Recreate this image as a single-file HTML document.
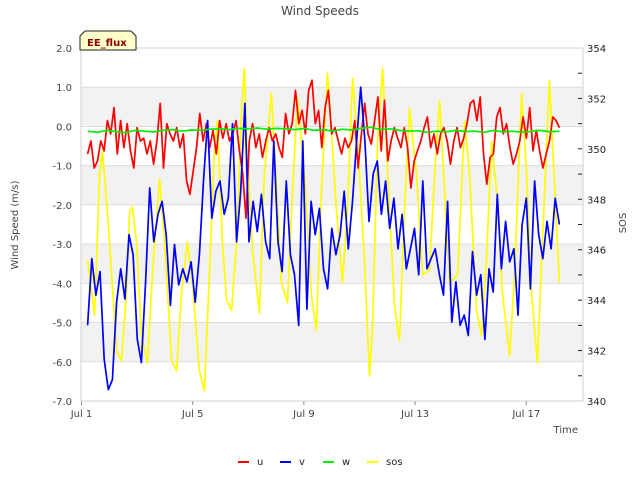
<!DOCTYPE html>
<html><head><meta charset="utf-8"><style>
body{margin:0;background:#fff;}
svg{display:block;font-family:"DejaVu Sans","Liberation Sans",sans-serif;}
</style></head><body>
<svg id="chart" width="640" height="480" xmlns="http://www.w3.org/2000/svg">
<text x="320" y="15" text-anchor="middle" font-size="12" fill="#444">Wind Speeds</text>
<g id="bands"></g><g id="grid"></g><g id="series"></g><g id="axes"></g>
<g>
<path d="M80,50 L80,36 L85,31 L131,31 L136,36 L136,50 Z" fill="#ffffcc" stroke="#222" stroke-width="1"/>
<text x="87" y="46" font-size="10" font-weight="bold" fill="#8b0000">EE_flux</text>
</g>
<text x="18" y="225" font-size="10" fill="#444" text-anchor="middle" transform="rotate(-90 18 225)">Wind Speed (m/s)</text>
<text x="626" y="223" font-size="10" fill="#444" text-anchor="middle" transform="rotate(-90 626 223)">SOS</text>
<text x="578" y="433" font-size="10" fill="#444" text-anchor="end">Time</text>
<g id="legend"></g>
</svg>
<script>
const xTickLabels=["Jul 1","Jul 5","Jul 9","Jul 13","Jul 17"];
const xTickDays=[0,4,8,12,16];
const yTicks=[2,1,0,-1,-2,-3,-4,-5,-6,-7];
const y2Ticks=[354,352,350,348,346,344,342,340];
const seriesNames=["u","v","w","sos"];
const seriesColors=["#ff0000","#0000ff","#00ee00","#ffff00"];
const tStart=0.22, tEnd=17.19;
const uVals=[-0.7,-0.37,-1.06,-0.88,-0.37,-0.62,0.15,-0.19,0.48,-0.7,0.15,-0.54,0.07,-0.62,-1.06,-0.03,-0.37,-0.3,-0.7,-0.37,-0.96,-0.37,0.59,-1.06,0.07,-0.19,-0.37,-0.03,-0.54,-0.19,-1.39,-1.73,-1.14,-0.54,0.33,-0.37,0.07,-0.54,-0.1,-0.7,0.15,-0.3,0.07,-0.37,-0.19,0.15,-0.62,-1.21,-2.34,-0.37,0.07,-0.54,-0.19,-0.79,-0.37,-0.03,-0.37,-0.19,-0.54,-0.79,0.33,-0.19,0.07,0.92,0.07,0.41,-0.19,0.92,1.18,0.07,0.41,-0.54,0.48,0.92,-0.19,
-0.03,-0.37,-0.7,-0.3,-0.54,-0.37,0.15,-1.06,-0.19,0.59,-0.19,-0.45,0.15,0.75,-0.62,0.67,-0.88,-0.37,-0.03,-0.3,-0.54,-0.03,-0.54,-1.57,-0.88,-0.62,-0.37,-0.03,0.24,-0.54,-0.19,-0.7,-0.19,-0.03,-0.37,-0.96,-0.37,-0.03,-0.54,-0.3,0.07,0.59,0.67,0.15,0.75,-0.7,-1.47,-0.79,-0.7,0.24,0.48,-0.19,0.07,-0.54,-0.96,-0.7,-0.37,0.24,-0.3,0.48,-0.62,-0.1,-0.62,-1.06,-0.7,-0.37,0.24,0.15,-0.03];
const vVals=[-5.07,-3.37,-4.3,-3.7,-5.94,-6.71,-6.46,-4.48,-3.63,-4.4,-2.76,-3.27,-5.43,-6.02,-3.96,-1.57,-2.94,-2.24,-1.91,-2.76,-4.56,-3.01,-4.04,-3.63,-3.96,-3.45,-4.48,-3.27,-1.39,0.15,-2.34,-1.65,-1.39,-2.24,-1.83,0.07,-2.94,-1.65,0.59,-2.94,-1.91,-2.68,-1.73,-2.94,-3.37,-0.37,-2.94,-3.7,-1.39,-3.27,-3.78,-5.07,-0.37,-4.66,-1.91,-2.76,-2.09,-3.63,
-4.14,-2.6,-3.27,-2.76,-1.65,-3.12,-1.91,-0.37,1.0,-0.37,-2.42,-1.21,-0.88,-2.24,-1.39,-2.6,-1.83,-3.12,-2.24,-3.63,-3.12,-2.6,-3.78,-1.39,-3.63,-3.37,-3.12,-3.78,-4.3,-1.91,-4.99,-3.96,-5.07,-4.81,-5.33,-3.19,-4.3,-3.78,-5.43,-3.63,-4.22,-1.73,-3.63,-2.42,-3.45,-3.12,-4.81,-2.5,-1.83,-4.14,-1.39,-2.76,-3.37,-2.42,-3.12,-1.83,-2.5];
const wVals=[-0.12,-0.15,-0.1,-0.13,-0.16,-0.1,-0.12,-0.14,-0.1,-0.08,-0.12,-0.09,-0.1,-0.07,-0.06,-0.08,-0.05,-0.06,-0.04,-0.07,-0.05,-0.06,-0.08,-0.05,-0.1,-0.08,-0.12,-0.07,-0.09,-0.05,-0.02,-0.08,-0.06,-0.1,-0.12,-0.11,-0.15,-0.12,-0.14,-0.1,-0.13,-0.12,-0.15,-0.1,-0.14,-0.12,-0.15,-0.13,-0.1,-0.14,-0.12];
const sosDays=[0.22,0.47,0.65,0.76,1.01,1.26,1.44,1.62,1.73,1.83,1.98,2.16,2.37,2.55,2.81,2.99,3.24,3.42,3.60,3.81,3.99,4.24,4.42,4.60,4.78,4.89,5.07,5.22,5.40,5.58,5.76,5.86,5.97,6.15,6.40,6.58,6.83,7.01,7.19,7.41,7.59,7.77,8.02,8.27,8.45,8.63,8.85,8.92,9.17,9.39,9.57,9.75,9.93,10.18,10.36,10.47,10.65,10.83,11.08,11.26,11.44,11.62,11.80,12.05,12.27,12.52,12.70,12.88,13.06,13.24,13.53,13.78,13.96,14.21,14.39,14.57,14.75,14.93,15.14,15.40,15.58,15.83,16.01,16.19,16.40,16.58,16.83,16.94,17.19];
const sosVals=[345.6,343.4,349,349.9,346.3,342,341.6,344.3,347.5,347.7,346.3,342.6,341.5,345,348.8,346.3,341.6,341.2,344.3,346.3,344.7,341.2,340.4,345,349.9,351.1,346.3,344,343.6,346.3,351.6,353.2,349.6,346,343.5,349,352.2,348.6,344.7,343.9,348.3,352,349,344.2,342.8,348.3,353,351.9,347.6,344.7,347.6,352.8,350.3,345.6,341,343,350.3,353.2,347.6,343.8,342.4,347.6,351.6,349,345,345.2,349,351.9,348.3,344.7,345,351.1,349,343.6,342.6,345.6,350.3,348.3,344.3,341.8,345,352.2,349,344.3,341.5,346.3,352.7,350.3,344.7];

const NS="http://www.w3.org/2000/svg";
const L=81,R=583,T=48,B=401,x0=81.5,pxDay=27.8;
const xs=d=>x0+d*pxDay;
const ys=v=>T+(2-v)*(B-T)/9;
const ys2=v=>T+(354-v)*(B-T)/14;
function mk(tag,attrs,parent){const e=document.createElementNS(NS,tag);for(const k in attrs)e.setAttribute(k,attrs[k]);parent.appendChild(e);return e;}
const bands=document.getElementById('bands'),grid=document.getElementById('grid'),series=document.getElementById('series'),axes=document.getElementById('axes'),legend=document.getElementById('legend');
for(let v=1;v>-7;v-=2){const r=mk('rect',{x:L,y:ys(v),width:R-L,height:ys(v-1)-ys(v),fill:'#f2f2f2'},bands);

}
yTicks.forEach(v=>{const y=ys(v);mk('line',{x1:L,x2:R,y1:y,y2:y,stroke:'#dddddd','stroke-width':1},grid);
const t=mk('text',{x:72,y:y+4,'text-anchor':'end','font-size':10,fill:'#444'},axes);t.textContent=v.toFixed(1);

});
y2Ticks.forEach(v=>{const y=ys2(v);const t=mk('text',{x:587,y:y+4,'font-size':10,fill:'#222'},axes);t.textContent=v;

});
for(let v=353;v>340;v-=1){const y=ys2(v);mk('line',{x1:R-1,x2:R-5,y1:y,y2:y,stroke:'#222'},axes);}
xTickDays.forEach((d,i)=>{const x=xs(d);mk('line',{x1:x,x2:x,y1:B,y2:B+4,stroke:'#888'},axes);
const t=mk('text',{x:x,y:B+16,'text-anchor':'middle','font-size':10,fill:'#444'},axes);t.textContent=xTickLabels[i];

});
const frame=mk('rect',{x:L,y:T,width:R-L,height:B-T,fill:'none',stroke:'#d0d0d0'},axes);


function evenLine(vals,scale,color,name){const n=vals.length;const pts=vals.map((v,i)=>xs(tStart+(tEnd-tStart)*i/(n-1)).toFixed(1)+','+scale(v).toFixed(1)).join(' ');
const p=mk('polyline',{points:pts,fill:'none',stroke:color,'stroke-width':1.7,'stroke-linejoin':'round'},series);

}
function timedLine(days,vals,scale,color,name){const pts=vals.map((v,i)=>xs(days[i]).toFixed(1)+','+scale(v).toFixed(1)).join(' ');
const p=mk('polyline',{points:pts,fill:'none',stroke:color,'stroke-width':1.7,'stroke-linejoin':'round'},series);

}
timedLine(sosDays,sosVals,ys2,seriesColors[3],'sos-line');
evenLine(uVals,ys,seriesColors[0],'u-line');
evenLine(vVals,ys,seriesColors[1],'v-line');
evenLine(wVals,ys,seriesColors[2],'w-line');
const legX=[238,280,323,367];
seriesNames.forEach((n,i)=>{const g=mk('g',{},legend);


mk('line',{x1:legX[i],x2:legX[i]+11,y1:462,y2:462,stroke:seriesColors[i],'stroke-width':2},g);
const t=mk('text',{x:legX[i]+19,y:465,'font-size':10,fill:'#222'},g);t.textContent=n;});
</script>
</body></html>
